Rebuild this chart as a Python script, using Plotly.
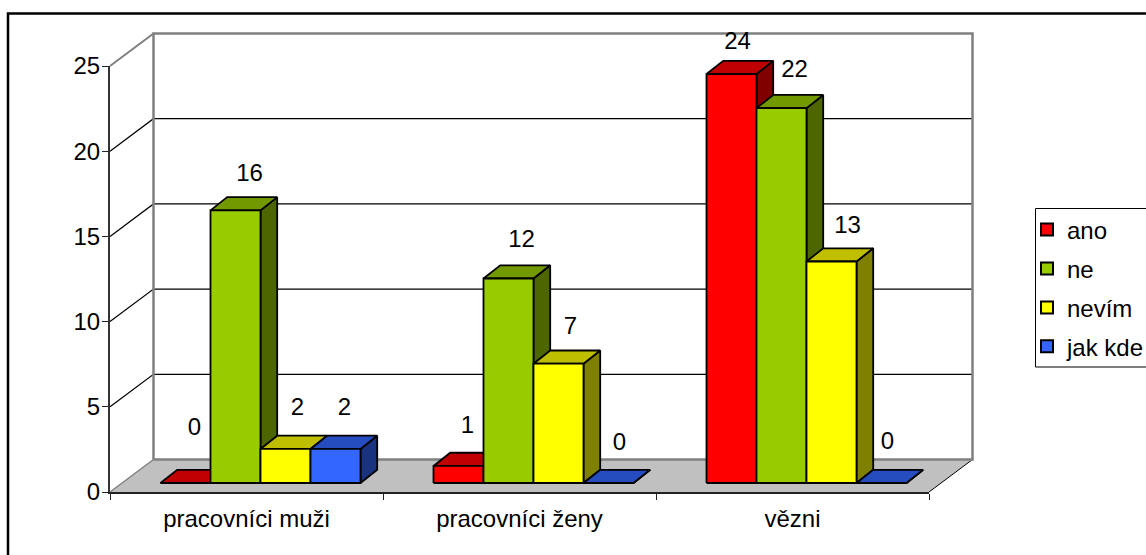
import plotly.graph_objects as go

categories = ["pracovníci muži", "pracovníci ženy", "vězni"]
series_names = ["ano", "ne", "nevím", "jak kde"]
ano = [0, 1, 24]
ne = [16, 12, 22]
nevim = [2, 7, 13]
jak_kde = [2, 0, 0]
y_ticks = [0, 5, 10, 15, 20, 25]

WIDTH, HEIGHT = 1146, 555
X0_PX, X1_PX = 110, 929
Y0_PX, Y25_PX = 492, 66
PX_X = (X1_PX - X0_PX) / len(categories)
PX_Y = (Y0_PX - Y25_PX) / 25

# pseudo-3D geometry, expressed in axis units
WALL_DX, WALL_DY = 43.5 / PX_X, 32.5 / PX_Y
BAR_W = 50 / PX_X
GROUP_LEFT = -86 / PX_X
BAR_BASE = 9 / PX_Y
BAR_DX, BAR_DY = 16.7 / PX_X, 13.2 / PX_Y

styles = [
    dict(front="#FF0000", top="#C00000", side="#800000"),
    dict(front="#99CC00", top="#739900", side="#4D6600"),
    dict(front="#FFFF00", top="#BFBF00", side="#808000"),
    dict(front="#3366FF", top="#264DBF", side="#1A3380"),
]
# label offsets in pixels from the centre of each bar's front-top edge
label_dx = [[9, 9, 6], [14, 13, 13], [12, 12, 16], [9, 11, 6]]
label_dy = [[54, 39, 31], [35, 38, 37], [40, 36, 34], [40, 39, 40]]

all_values = [ano, ne, nevim, jak_kde]
xmin, xmax = -0.5, len(categories) - 0.5
fig = go.Figure()


def poly(xs, ys, fill, line="#000000", width=1.8):
    fig.add_trace(go.Scatter(x=xs, y=ys, mode="lines", fill="toself", fillcolor=fill,
                             line=dict(color=line, width=width), showlegend=False,
                             hoverinfo="skip", xaxis="x2", yaxis="y2"))


def seg(xs, ys, color, width):
    fig.add_trace(go.Scatter(x=xs, y=ys, mode="lines", line=dict(color=color, width=width),
                             showlegend=False, hoverinfo="skip", xaxis="x2", yaxis="y2"))


# floor
poly([xmin, xmax, xmax + WALL_DX, xmin + WALL_DX, xmin],
     [0, 0, WALL_DY, WALL_DY, 0], "#C0C0C0", line="rgba(0,0,0,0)", width=0)

# back wall gridlines and their diagonal run-ins
for t in y_ticks[1:-1]:
    seg([xmin, xmin + WALL_DX, xmax + WALL_DX], [t, t + WALL_DY, t + WALL_DY], "#000000", 1.2)
seg([xmin, xmin + WALL_DX], [25, 25 + WALL_DY], "#808080", 2)
seg([xmin, xmin + WALL_DX], [0, WALL_DY], "#808080", 1.5)
seg([xmax, xmax + WALL_DX], [0, WALL_DY], "#000000", 1)
seg([xmin + WALL_DX, xmin + WALL_DX, xmax + WALL_DX, xmax + WALL_DX, xmin + WALL_DX],
    [WALL_DY, 25 + WALL_DY, 25 + WALL_DY, WALL_DY, WALL_DY], "#808080", 2.5)

# bars, painted left to right so later bars cover earlier side faces
for s, (values, st) in enumerate(zip(all_values, styles)):
    sx, sy, tx, ty, fx, fy = [], [], [], [], [], []
    for c, v in enumerate(values):
        l = c + GROUP_LEFT + s * BAR_W
        r = l + BAR_W
        b = BAR_BASE
        t = BAR_BASE + v
        fx += [l, r, r, l, l, None]
        fy += [b, b, t, t, b, None]
        tx += [l, r, r + BAR_DX, l + BAR_DX, l, None]
        ty += [t, t, t + BAR_DY, t + BAR_DY, t, None]
        sx += [r, r + BAR_DX, r + BAR_DX, r, r, None]
        sy += [b, b + BAR_DY, t + BAR_DY, t, b, None]
    poly(sx, sy, st["side"])
    poly(tx, ty, st["top"])
    poly(fx, fy, st["front"])

# data labels
for s, values in enumerate(all_values):
    xs = [c + GROUP_LEFT + (s + 0.5) * BAR_W + label_dx[s][c] / PX_X for c in range(len(values))]
    ys = [BAR_BASE + v + label_dy[s][c] / PX_Y for c, v in enumerate(values)]
    fig.add_trace(go.Scatter(x=xs, y=ys, mode="text", text=[str(v) for v in values],
                             textposition="middle center",
                             textfont=dict(family="Liberation Sans", size=24, color="#000000"),
                             showlegend=False, hoverinfo="skip", xaxis="x2", yaxis="y2"))

# legend entries
for name, st in zip(series_names, styles):
    fig.add_trace(go.Scatter(x=[None], y=[None], mode="markers", name=name, legendgroup=name,
                             marker=dict(symbol="square", size=13, color=st["front"],
                                         line=dict(color="#000000", width=1.5))))

fig.update_layout(
    width=WIDTH, height=HEIGHT, autosize=False,
    margin=dict(l=0, r=0, t=0, b=0, pad=0, autoexpand=False),
    paper_bgcolor="#FFFFFF", plot_bgcolor="rgba(0,0,0,0)",
    font=dict(family="Liberation Sans", size=24, color="#000000"),
    xaxis=dict(domain=[X0_PX / WIDTH, X1_PX / WIDTH], range=[xmin, xmax], type="linear",
               tickmode="array", tickvals=list(range(len(categories))), ticktext=categories,
               ticks="", showgrid=False, zeroline=False, showline=True, automargin=False,
               linecolor="#222222", linewidth=2, ticklabelstandoff=4,
               minor=dict(tickmode="array", tickvals=[-0.5, 0.5, 1.5, 2.5], ticks="outside",
                          ticklen=6, tickcolor="#222222", tickwidth=1, showgrid=False)),
    yaxis=dict(domain=[(HEIGHT - Y0_PX) / HEIGHT, (HEIGHT - Y25_PX) / HEIGHT], range=[0, 25],
               tickmode="array", tickvals=y_ticks, ticks="outside", ticklen=6, tickwidth=1,
               tickcolor="#222222", showgrid=False, zeroline=False, showline=True,
               automargin=False, linecolor="#333333", linewidth=2, ticklabelstandoff=-3),
    # full-canvas overlay axes with the same units per pixel as the visible axes
    xaxis2=dict(domain=[0, 1], visible=False, anchor="y2", fixedrange=True,
                range=[xmin - X0_PX / PX_X, xmin + (WIDTH - X0_PX) / PX_X]),
    yaxis2=dict(domain=[0, 1], visible=False, anchor="x2", fixedrange=True,
                range=[-(HEIGHT - Y0_PX) / PX_Y, Y0_PX / PX_Y]),
    legend=dict(x=1027 / WIDTH, xanchor="left", y=1 - 207.5 / HEIGHT, yanchor="top",
                bgcolor="rgba(0,0,0,0)", borderwidth=0, tracegroupgap=4.7,
                itemsizing="constant", font=dict(family="Liberation Sans", size=24)),
    shapes=[
        dict(type="rect", xref="paper", yref="paper", x0=8 / WIDTH, x1=1.05, y0=-0.05,
             y1=1 - 13.5 / HEIGHT, line=dict(color="#000000", width=2.5), layer="below"),
        dict(type="rect", xref="paper", yref="paper", x0=1035.5 / WIDTH, x1=1.05,
             y0=1 - 367 / HEIGHT, y1=1 - 208.5 / HEIGHT, line=dict(color="#000000", width=1),
             layer="below"),
    ],
)

fig.write_html("out.html", config={"displayModeBar": False},
               post_script="document.body.style.margin='0';")
